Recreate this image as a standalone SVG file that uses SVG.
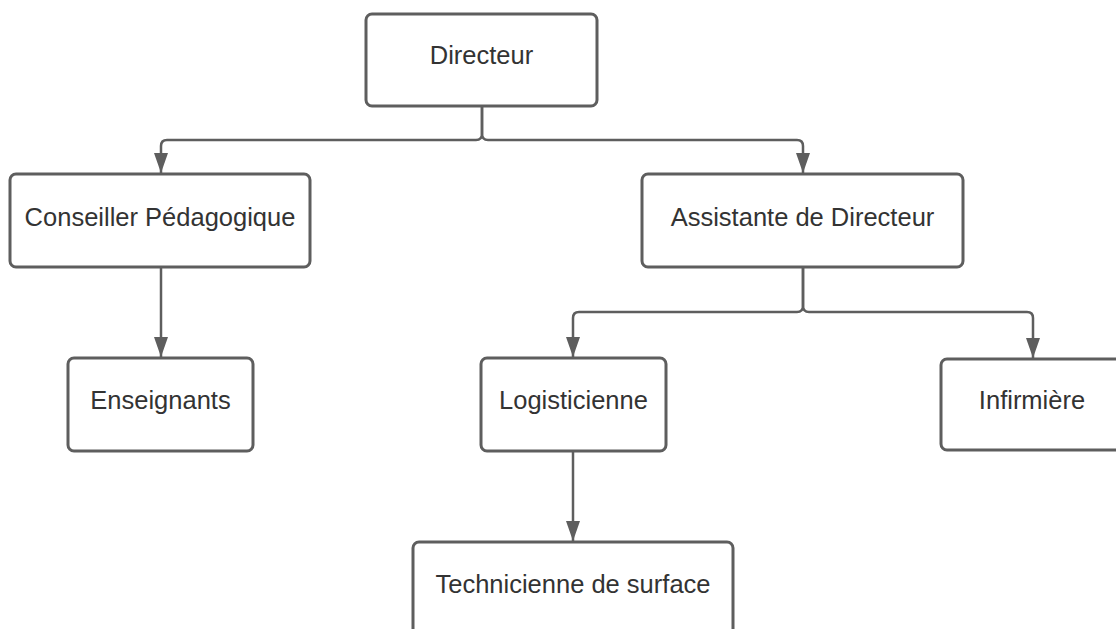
<svg xmlns="http://www.w3.org/2000/svg" width="1116" height="629" viewBox="0 0 1116 629">
<style>
.box{fill:#ffffff;stroke:#5e5e5e;stroke-width:3}
.lbl{font-family:"Liberation Sans",Arial,sans-serif;font-size:25.5px;fill:#333333;text-anchor:middle}
.con{fill:none;stroke:#5e5e5e;stroke-width:2.5}
</style>
<defs>
<marker id="arr" markerWidth="20" markerHeight="14" refX="20" refY="7" orient="auto" markerUnits="userSpaceOnUse" viewBox="0 0 20 14">
<path d="M0,0 L20,7 L0,14 Z" fill="#5e5e5e"/>
</marker>
</defs>
<rect width="1116" height="629" fill="#ffffff"/>
<g id="connectors">
<path class="con" d="M482,106 V134 Q482,140 476,140 H167 Q161,140 161,146 V173" marker-end="url(#arr)"/>
<path class="con" d="M482,106 V134 Q482,140 488,140 H797 Q803,140 803,146 V173" marker-end="url(#arr)"/>
<path class="con" d="M161,267 V357" marker-end="url(#arr)"/>
<path class="con" d="M803,267 V306 Q803,312 797,312 H579 Q573,312 573,318 V357" marker-end="url(#arr)"/>
<path class="con" d="M803,267 V306 Q803,312 809,312 H1027 Q1033,312 1033,318 V358" marker-end="url(#arr)"/>
<path class="con" d="M573,451 V541" marker-end="url(#arr)"/>
</g>
<g id="directeur">
<rect class="box" x="366" y="14" width="231" height="92" rx="6"/>
<text class="lbl" x="481.5" y="64">Directeur</text>
</g>
<g id="conseiller">
<rect class="box" x="10" y="174" width="300" height="93" rx="6"/>
<text class="lbl" x="160" y="226">Conseiller Pédagogique</text>
</g>
<g id="assistante">
<rect class="box" x="642" y="174" width="321" height="93" rx="6"/>
<text class="lbl" x="802.5" y="226">Assistante de Directeur</text>
</g>
<g id="enseignants">
<rect class="box" x="68" y="358" width="185" height="93" rx="6"/>
<text class="lbl" x="160.5" y="409">Enseignants</text>
</g>
<g id="logisticienne">
<rect class="box" x="481" y="358" width="185" height="93" rx="6"/>
<text class="lbl" x="573.5" y="409">Logisticienne</text>
</g>
<g id="infirmiere">
<rect class="box" x="941" y="359" width="185" height="91" rx="6"/>
<text class="lbl" x="1032" y="409">Infirmière</text>
</g>
<g id="technicienne">
<rect class="box" x="413" y="542" width="320" height="93" rx="6"/>
<text class="lbl" x="573" y="593">Technicienne de surface</text>
</g>
</svg>
